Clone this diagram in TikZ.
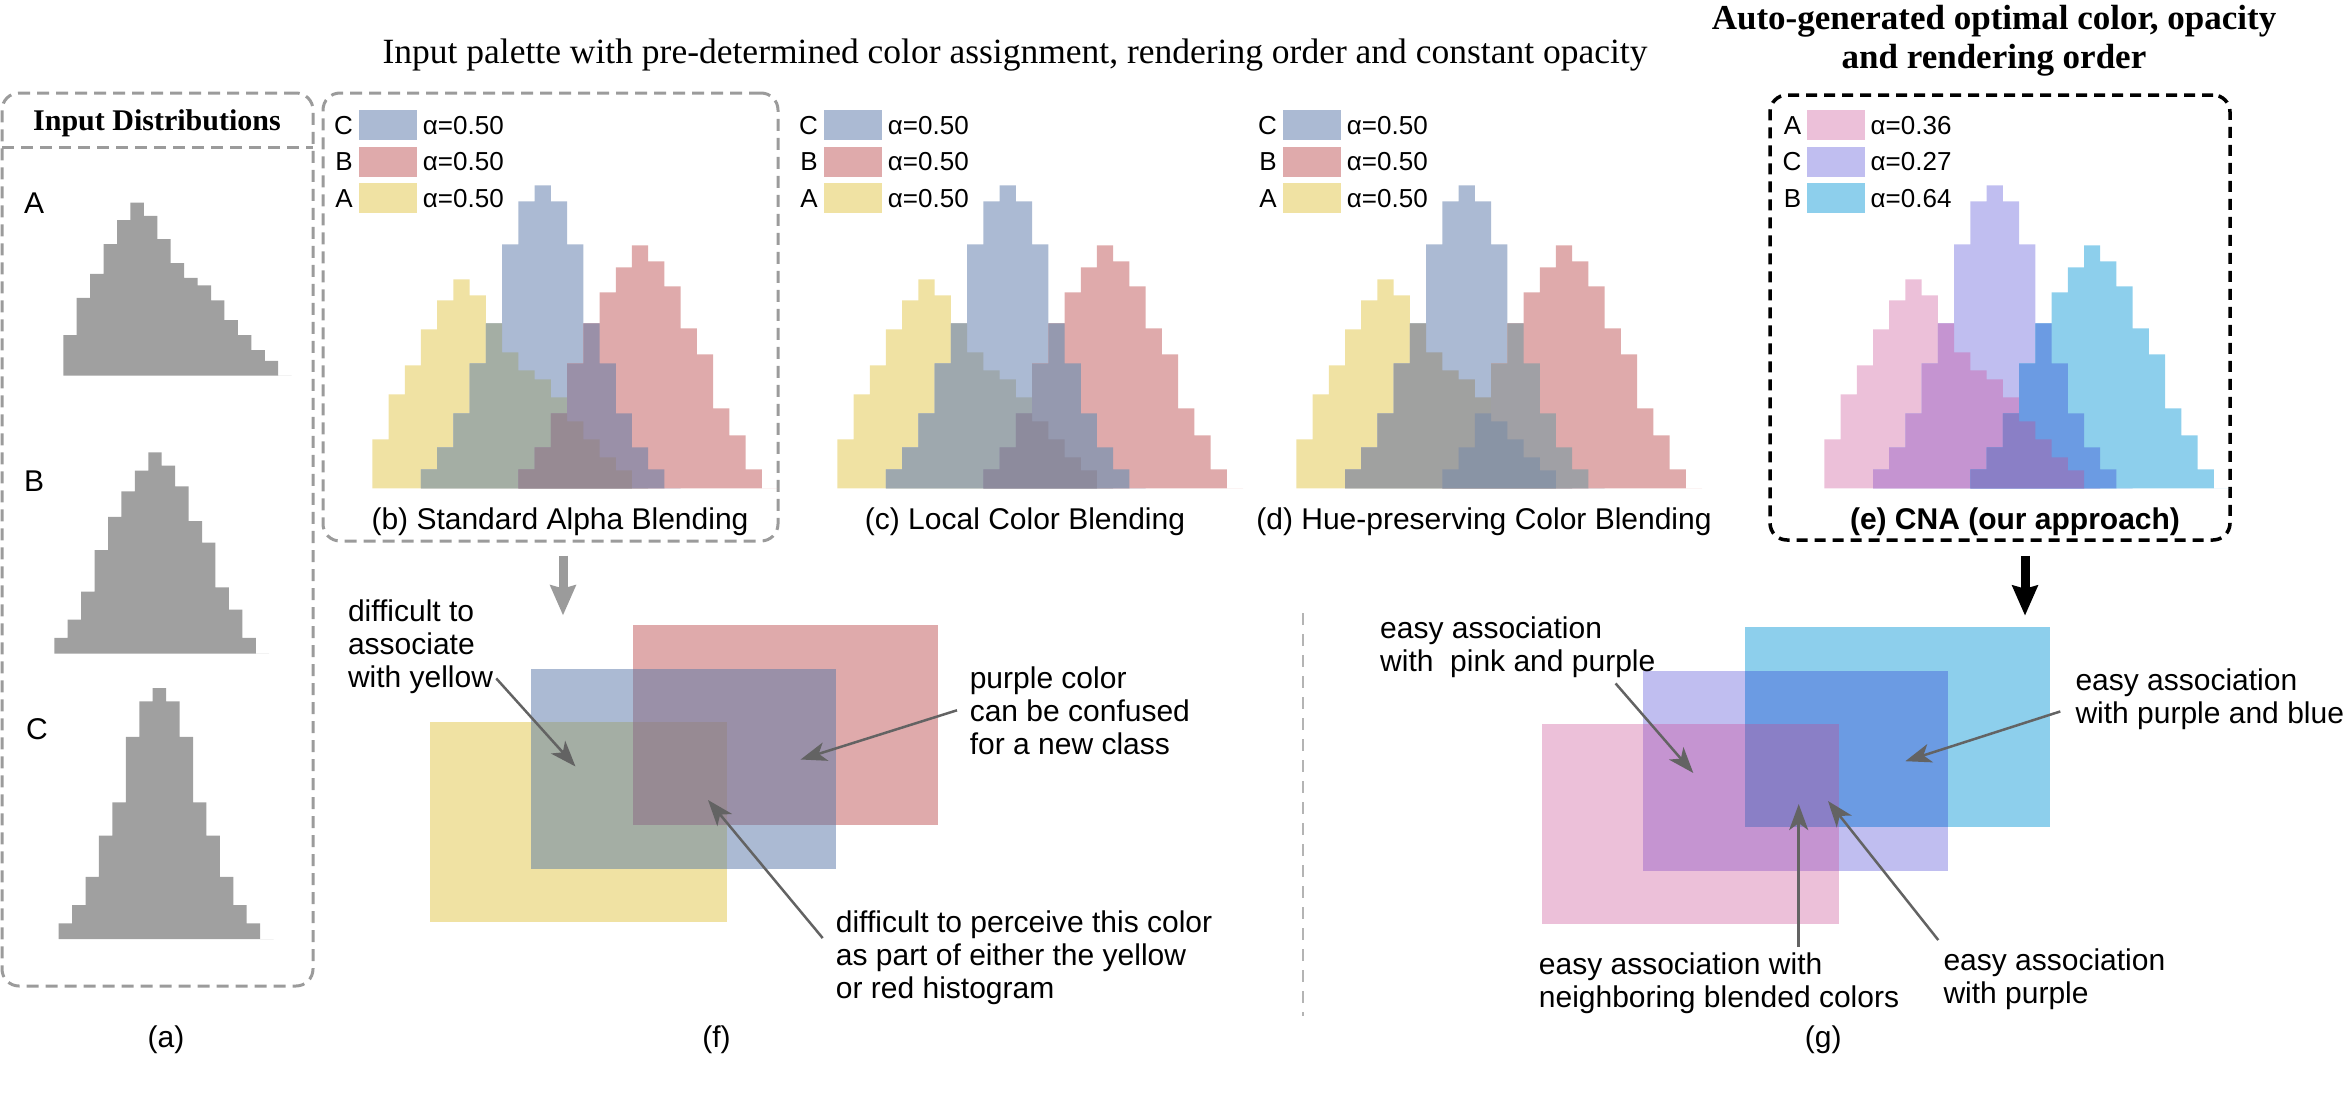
\documentclass[tikz,border=0pt]{standalone}
\usepackage{fontspec}
\setmainfont{Liberation Serif}
\setsansfont{Liberation Sans}
\usetikzlibrary{arrows.meta,calc,positioning}

\definecolor{histgray}{HTML}{A0A0A0}
\definecolor{boxgray}{HTML}{9B9B9B}
\definecolor{divgray}{HTML}{B4B4B4}
\definecolor{arrowgray}{HTML}{636363}
% input palette
\definecolor{clrA}{HTML}{F0E2A3}
\definecolor{clrB}{HTML}{DFAAAB}
\definecolor{clrC}{HTML}{ABBAD3}
\colorlet{bA}{clrA}\colorlet{bB}{clrB}\colorlet{bC}{clrC}
\colorlet{cA}{clrA}\colorlet{cB}{clrB}\colorlet{cC}{clrC}
\colorlet{dA}{clrA}\colorlet{dB}{clrB}\colorlet{dC}{clrC}
\definecolor{bAC}{HTML}{A4AEA4}
\definecolor{bBC}{HTML}{9A90A8}
\definecolor{bABC}{HTML}{978A93}
\definecolor{cAC}{HTML}{9EA8AE}
\definecolor{cBC}{HTML}{9599AF}
\definecolor{cABC}{HTML}{8D8B9D}
\definecolor{dAC}{HTML}{A0A1A0}
\definecolor{dBC}{HTML}{A0A0A5}
\definecolor{dABC}{HTML}{8994A5}
% CNA palette
\definecolor{eA}{HTML}{ECC0D9}
\definecolor{eB}{HTML}{8DCFEC}
\definecolor{eC}{HTML}{C0BEF0}
\definecolor{eAC}{HTML}{C594D1}
\definecolor{eBC}{HTML}{6B9BE3}
\definecolor{eABC}{HTML}{8A7FC6}

% bin heights (px)
\def\binsA{49,94,123,159,188,209,193,165,136,118,109,91,67,49,31,18,0}
\def\binsC{19,41,75,125,165,244,287,303,287,244,165,125,75,41,19,0}
\def\binsB{19,41,75,125,165,196,221,243,227,202,160,134,80,53,19,0}
\def\binsAC{19,41,75,125,165,136,118,109,91,67,49,31,18,0}
\def\binsBC{19,41,75,125,165,125,75,41,19,0}
\def\binsABC{19,41,75,67,49,31,18,0}

% colour, x of bin 0, baseline, bin width, height scale, first bin, heights
\newcommand\histbars[7]{%
  \fill[fill=#1] ({#2+#6*#4},#3) foreach \h [count=\i from #6] in #7 {
      -- ({#2+\i*#4},{#3-#5*\h}) -- ({#2+(\i+1)*#4},{#3-#5*\h})} -- cycle;}

\begin{document}
\begin{tikzpicture}[x=1pt,y=-1pt,
  sflbl/.style={font=\sffamily\fontsize{30}{33}\selectfont, inner sep=0pt},
  legtxt/.style={font=\sffamily\fontsize{26}{28}\selectfont, inner sep=0pt},
  note/.style={sflbl, align=left, anchor=base west},
  panelbox/.style={draw=boxgray, line width=3pt, dash pattern=on 12pt off 7pt,
    rounded corners=17pt, inner sep=0pt},
  note arrow/.style={draw=arrowgray, line width=2.5pt,
    -{Stealth[length=26pt,width=19pt,inset=7pt]}},
  big arrow/.style={line width=9pt, -{Stealth[length=30pt,width=25pt,inset=3pt]}}]
\useasboundingbox (0,0) rectangle (2346,1095);

% titles (multi-line nodes sit on their last baseline)
\node[font=\fontsize{35.5}{39}\selectfont, anchor=base, inner sep=0pt] (ttlpal) at (1015,63)
  {Input palette with pre-determined color assignment, rendering order and constant opacity};
\node[font=\bfseries\fontsize{35}{39.3}\selectfont, align=center, anchor=base, inner sep=0pt]
  (ttlcna) at (1994,68.6) {Auto-generated optimal color, opacity\\and rendering order};

% (a) input distributions
\node[panelbox, minimum width=311pt, minimum height=893pt] (boxa) at (157.5,539.5) {};
\draw[boxgray, line width=3pt, dash pattern=on 12pt off 7pt] (2,147) -- (313,147);
\node[font=\bfseries\fontsize{30}{33}\selectfont, anchor=base, inner sep=0pt] (ttldist)
  at (157,130) {Input Distributions};
\histbars{histgray}{63.3}{375.7}{13.43}{0.828}{0}{\binsA}
\histbars{histgray}{-66.57}{653.6}{13.43}{0.828}{9}{\binsB}
\histbars{histgray}{18.41}{939}{13.43}{0.828}{3}{\binsC}
\node[sflbl, anchor=base west] (distA) at (24,213) {A};
\node[sflbl, anchor=base west] (distB) at (24,491) {B};
\node[sflbl, anchor=base west] (distC) at (26,739) {C};
\node[sflbl, anchor=base] (capa) at (166,1047) {(a)};

% (b)-(e) blended histograms
\node[panelbox, minimum width=455pt, minimum height=448pt] (boxb) at (550.5,317) {};
\node[panelbox, draw=black, line width=3.5pt, dash pattern=on 11pt off 7pt,
  minimum width=460pt, minimum height=445pt] (boxe) at (2000,317.5) {};
\foreach \p/\dx in {b/0,c/465,d/924,e/1452} {
  \histbars{\p A}{372.3+\dx}{488.3}{16.23}{1}{0}{\binsA}
  \histbars{\p C}{372.3+\dx}{488.3}{16.23}{1}{3}{\binsC}
  \histbars{\p B}{372.3+\dx}{488.3}{16.23}{1}{9}{\binsB}
  \histbars{\p AC}{372.3+\dx}{488.3}{16.23}{1}{3}{\binsAC}
  \histbars{\p BC}{372.3+\dx}{488.3}{16.23}{1}{9}{\binsBC}
  \histbars{\p ABC}{372.3+\dx}{488.3}{16.23}{1}{9}{\binsABC}
}
% legends
\foreach \p/\dx in {b/0,c/465,d/924} {
  \foreach \L/\r in {C/0,B/1,A/2} {
    \fill[fill=clr\L] ({358.7+\dx},{110+36.7*\r}) rectangle ++(58,30);
    \node[legtxt, anchor=base east] (key\p\L) at ({353+\dx},{134+36.7*\r}) {\L};
    \node[legtxt, anchor=base west] (alpha\p\L) at ({422.7+\dx},{134+36.7*\r}) {α=0.50};
  }
}
\foreach \L/\a/\r in {A/0.36/0,C/0.27/1,B/0.64/2} {
  \fill[fill=e\L] (1806.7,{110+36.7*\r}) rectangle ++(58,30);
  \node[legtxt, anchor=base east] (keye\L) at (1801.5,{134+36.7*\r}) {\L};
  \node[legtxt, anchor=base west] (alphae\L) at (1870.5,{134+36.7*\r}) {α=\a};
}
\node[sflbl, anchor=base] (capb) at (560,529) {(b) Standard Alpha Blending};
\node[sflbl, anchor=base] (capc) at (1025,529) {(c) Local Color Blending};
\node[sflbl, anchor=base] (capd) at (1484,529) {(d) Hue-preserving Color Blending};
\node[sflbl, font=\sffamily\bfseries\fontsize{30}{33}\selectfont, anchor=base] (cape)
  at (2015,529) {(e) CNA (our approach)};

\draw[big arrow, draw=boxgray] ($(boxb.south)+(12.5,13)$) -- ++(0,60);
\draw[big arrow, draw=black] ($(boxe.south)+(25,14)$) -- ++(0,60);

% (f) and (g) overlapping squares
\foreach \p/\dx/\dy in {b/0/0,e/1112/1.5} {
  \fill[fill=\p A] ({430+\dx},{722+\dy}) rectangle ({727+\dx},{922+\dy});
  \fill[fill=\p C] ({531+\dx},{669+\dy}) rectangle ({836+\dx},{869+\dy});
  \fill[fill=\p B] ({633+\dx},{625+\dy}) rectangle ({938+\dx},{825+\dy});
  \fill[fill=\p AC] ({531+\dx},{722+\dy}) rectangle ({727+\dx},{869+\dy});
  \fill[fill=\p BC] ({633+\dx},{669+\dy}) rectangle ({836+\dx},{825+\dy});
  \fill[fill=\p ABC] ({633+\dx},{722+\dy}) rectangle ({727+\dx},{825+\dy});
}
\draw[divgray, line width=2.5pt, dash pattern=on 12pt off 9pt] (1303,613) -- (1303,1016);

% (f) notes
\node[note] (noteyel) at (347.8,687) {difficult to\\associate\\with yellow};
\node[note] (notepur) at (969.6,754) {purple color\\can be confused\\for a new class};
\node[note] (noteper) at (835.7,998) {difficult to perceive this color\\as part of either the yellow\\or red histogram};
\coordinate (tipyel) at (575.5,766.5);
\coordinate (tippur) at (800.6,759.5);
\coordinate (tipper) at (708,800);
\draw[note arrow] ($(noteyel.south east)+(3,-15)$) -- (tipyel);
\draw[note arrow] ($(notepur.west)+(-12.6,0)$) -- (tippur);
\draw[note arrow] ($(noteper.north west)+(-13,28)$) -- (tipper);
\node[sflbl, anchor=base] (capf) at (716.5,1047) {(f)};

% (g) notes
\node[note] (notepink) at (1380,671) {easy association\\with~ pink and purple};
\node[note] (noteblu) at (2075.3,723) {easy association\\with purple and blue};
\node[note] (notenbr) at (1538.7,1007) {easy association with\\neighboring blended colors};
\node[note] (notewp) at (1943.3,1003) {easy association\\with purple};
\coordinate (tippink) at (1693.3,773);
\coordinate (tipblu) at (1905.3,761.2);
\coordinate (tipwp) at (1828,801);
\draw[note arrow] ($(notepink.south east)+(-40,6)$) -- (tippink);
\draw[note arrow] ($(noteblu.west)+(-15,12.7)$) -- (tipblu);
\draw[note arrow] ($(notenbr.north west)+(260,-5)$) -- ++(0,-143);
\draw[note arrow] ($(notewp.north west)+(-5,-8)$) -- (tipwp);
\node[sflbl, anchor=base] (capg) at (1823.3,1047) {(g)};
\end{tikzpicture}
\end{document}
